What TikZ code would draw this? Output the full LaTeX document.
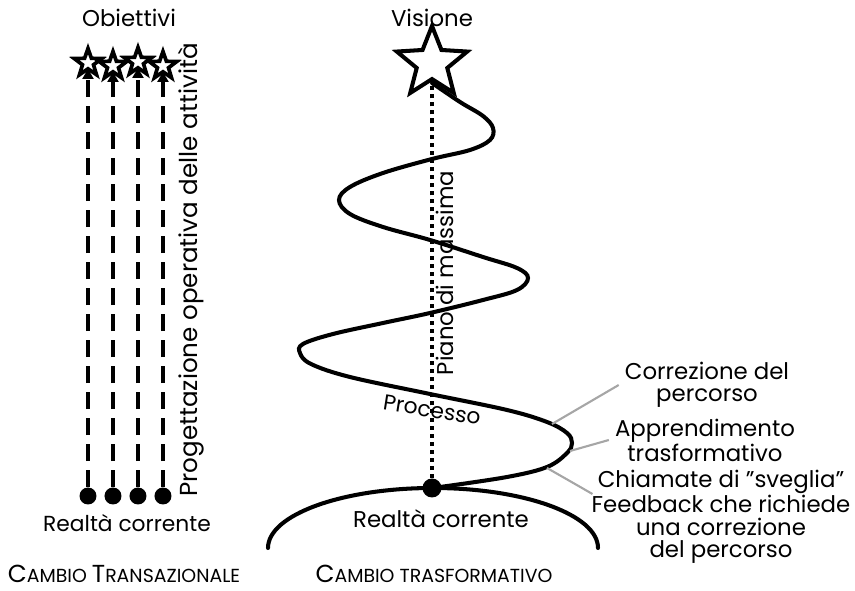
\documentclass[tikz,border=0pt]{standalone}
\usepackage{fontspec}
\setmainfont{Poppins}
\usetikzlibrary{arrows.meta,shapes.geometric,positioning,calc}
\newcommand{\initcap}[1]{{\fontsize{14}{15}\selectfont #1}}

\begin{document}
\begin{tikzpicture}[x=0.02cm,y=0.02cm,align=center,node distance=0.5cm,
  font=\fontsize{12.4}{13.5}\selectfont]
\tikzstyle{goal}=[star,star points=5,star point ratio=2.5,draw=black,fill=white,
  line width=2.1pt,minimum size=0.58cm,inner sep=0pt]
\tikzstyle{vision}=[goal,line width=2.3pt,star point ratio=2.3,minimum size=1.48cm]
\tikzstyle{dot}=[circle,fill=black,inner sep=0pt,minimum size=0.34cm]
\tikzstyle{plan}=[-{Triangle[length=0.2cm,width=0.22cm]},line width=2.2pt,
  dash pattern=on 0.34cm off 0.18cm,shorten >=0.12cm]
\tikzstyle{master}=[line width=2.3pt,dash pattern=on 2.3pt off 2.3pt]
\tikzstyle{curve}=[line width=2.3pt,line cap=round]
\tikzstyle{note}=[draw=gray!70,line width=1.2pt]
\tikzstyle{label}=[font=\fontsize{13}{12.8}\selectfont]
\tikzstyle{caption}=[font=\fontsize{10.75}{12}\selectfont,inner sep=1pt]

\useasboundingbox (0,0) rectangle (855,591);

% cambio transazionale
\node[label] (obj) at (129,573) {Obiettivi};
\node[goal] (o1) at (88,528) {};
\node[goal] (o2) [right of=o1, yshift=-0.06cm] {};
\node[goal] (o3) [right of=o2, yshift=0.08cm] {};
\node[goal] (o4) [right of=o3, yshift=-0.08cm] {};

\node[dot] (d1) at (88,95) {};
\node[dot] (d2) [right of=d1] {};
\node[dot] (d3) [right of=d2] {};
\node[dot] (d4) [right of=d3] {};

\path
  (d1) edge [plan] (d1 |- o1.center)
  (d2) edge [plan] (d2 |- o2.center)
  (d3) edge [plan] (d3 |- o3.center)
  (d4) edge [plan] (d4 |- o4.center);

\node[rotate=90,font=\fontsize{14}{15}\selectfont] (prog) at (191,321)
  {Progettazione operativa delle attività};
\node (real1) at (127,68) {Realtà corrente};
\node[caption] (tr) at (124,17) {\initcap{C}AMBIO \initcap{T}RANSAZIONALE};

% cambio trasformativo
\node[label] (vis) at (432,573) {Visione};
\node[vision] (v) at (432,528) {};
\node[dot,minimum size=0.38cm] (r) at (432,103) {};
\path (r) edge [master] (v);

\draw[curve] plot[smooth,tension=0.6] coordinates {
  (432,508) (460,489) (483,475) (493,463) (490,451) (470,441) (432,432)
  (383,418) (350,404) (339,391) (350,377) (383,364) (430,351)
  (483,334) (517,323) (528,313) (517,301) (483,291) (430,278)
  (383,268) (333,257) (303,247) (300,238) (311,227) (350,214) (430,197)
  (507,181) (547,169) (567,158) (572,148) (567,138) (547,124) (507,114) (440,104)};
\draw[curve] (268,43) arc[start angle=180,end angle=0,x radius=165,y radius=60];

\node[rotate=90,label] (piano) at (445,318) {Piano di massima};
\node[rotate=-9] (proc) at (432,181) {Processo};
\node[label] (real2) at (441,72) {Realtà corrente};
\node[caption] (tf) at (434,17) {\initcap{C}AMBIO TRASFORMATIVO};

% annotazioni
\node[label] (cp) at (707,206) {Correzione del\\percorso};
\node[label] (ap) at (705,151) {Apprendimento\\trasformativo};
\node[label] (ch) at (721,74) {Chiamate di ''sveglia''\\Feedback che richiede\\una correzione\\del percorso};

\coordinate (s1) at (552,167);
\coordinate (s2) at (570,140);
\coordinate (s3) at (547,123);
\draw[note] (s1) -- (cp.west);
\draw[note] (s2) -- (ap.west);
\draw[note] (s3) -- ($(ch.west)+(7,23)$);
\end{tikzpicture}
\end{document}
